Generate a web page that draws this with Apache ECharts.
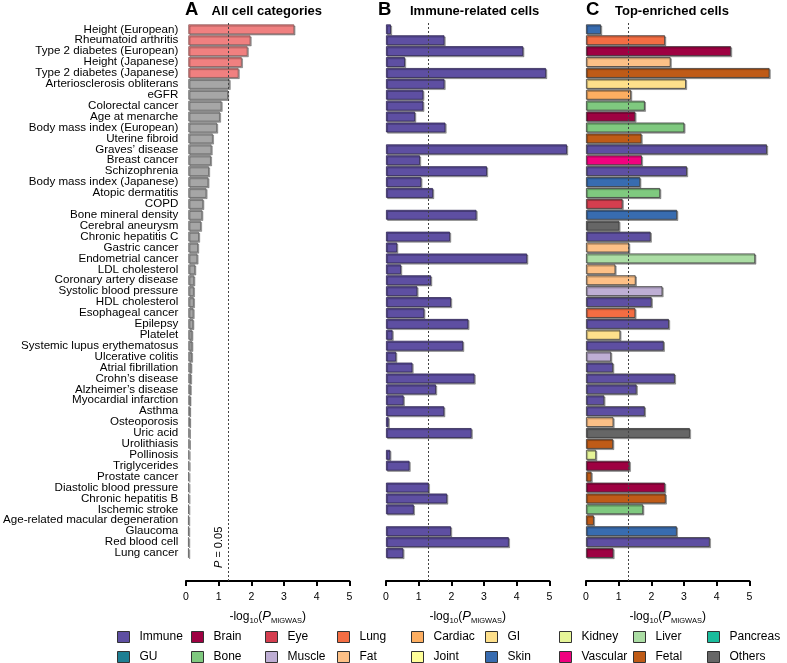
<!DOCTYPE html>
<html>
<head>
<meta charset="utf-8">
<script src="https://cdn.jsdelivr.net/npm/echarts@6/dist/echarts.min.js"></script>
<style>
html,body{margin:0;padding:0;background:#fff;}
#chart{width:787px;height:663px;}
</style>
</head>
<body>
<div id="chart"></div>
<script>
// ---------------- DATA ----------------
const categories = [
  'Height (European)','Rheumatoid arthritis','Type 2 diabetes (European)','Height (Japanese)',
  'Type 2 diabetes (Japanese)','Arteriosclerosis obliterans','eGFR','Colorectal cancer',
  'Age at menarche','Body mass index (European)','Uterine fibroid','Graves\u2019 disease',
  'Breast cancer','Schizophrenia','Body mass index (Japanese)','Atopic dermatitis','COPD',
  'Bone mineral density','Cerebral aneurysm','Chronic hepatitis C','Gastric cancer',
  'Endometrial cancer','LDL cholesterol','Coronary artery disease','Systolic blood pressure',
  'HDL cholesterol','Esophageal cancer','Epilepsy','Platelet','Systemic lupus erythematosus',
  'Ulcerative colitis','Atrial fibrillation','Crohn\u2019s disease','Alzheimer\u2019s disease',
  'Myocardial infarction','Asthma','Osteoporosis','Uric acid','Urolithiasis','Pollinosis',
  'Triglycerides','Prostate cancer','Diastolic blood pressure','Chronic hepatitis B',
  'Ischemic stroke','Age-related macular degeneration','Glaucoma','Red blood cell','Lung cancer'
];

// Panel A: all cell categories
const allCellValues = [
  3.29,1.93,1.84,1.66,1.56,1.28,1.23,1.03,0.98,0.89,0.76,0.72,0.70,0.64,0.62,0.56,0.46,
  0.43,0.39,0.33,0.30,0.28,0.21,0.18,0.17,0.17,0.16,0.15,0.12,0.12,0.11,0.09,0.08,0.07,
  0.06,0.05,0.05,0.04,0.04,0.03,0.03,0.02,0.02,0.02,0.015,0.01,0.01,0.01,0.01
];
const allCellSignificant = [
  true,true,true,true,true,false,false,false,false,false,false,false,false,false,false,false,false,
  false,false,false,false,false,false,false,false,false,false,false,false,false,false,false,false,false,
  false,false,false,false,false,false,false,false,false,false,false,false,false,false,false
];

// Panel B: immune-related cells
const immuneValues = [
  0.15,1.79,4.20,0.58,4.90,1.79,1.14,1.14,0.89,1.82,null,5.54,1.04,3.09,1.08,1.44,null,
  2.77,null,1.96,0.34,4.32,0.46,1.38,0.96,1.99,1.17,2.52,0.20,2.36,0.31,0.81,2.71,1.53,
  0.54,1.78,0.08,2.62,null,0.13,0.72,null,1.31,1.87,0.85,null,1.99,3.76,0.53
];

// Panel C: top-enriched cells
const topCellValues = [
  0.46,2.42,4.44,2.59,5.62,3.06,1.38,1.80,1.51,3.01,1.70,5.54,1.71,3.09,1.66,2.27,1.12,
  2.79,1.02,1.98,1.32,5.18,0.90,1.52,2.34,2.01,1.51,2.54,1.05,2.38,0.77,0.83,2.72,1.55,
  0.56,1.80,0.84,3.18,0.83,0.31,1.34,0.17,2.42,2.44,1.75,0.24,2.78,3.79,0.84
];
const topCellTypes = [
  'Skin','Lung','Brain','Fat','Fetal','GI','Cardiac','Bone','Brain','Bone','Fetal','Immune','Vascular',
  'Immune','Skin','Bone','Eye','Skin','Others','Immune','Fat','Liver','Fat','Fat','Muscle','Immune',
  'Lung','Immune','GI','Immune','Muscle','Immune','Immune','Immune','Immune','Immune','Fat','Others',
  'Fetal','Kidney','Brain','Fetal','Brain','Fetal','Bone','Fetal','Skin','Immune','Brain'
];

const legendRow1 = ['Immune','Brain','Eye','Lung','Cardiac','GI','Kidney','Liver','Pancreas'];
const legendRow2 = ['GU','Bone','Muscle','Fat','Joint','Skin','Vascular','Fetal','Others'];
const xTickValues = [0,1,2,3,4,5];
const pThreshold = 1.3; // -log10(0.05)

// ---------------- STYLES ----------------
const cellColors = {
  Immune:'#5E4FA2', Brain:'#9E0142', Eye:'#D53E4F', Lung:'#F46D43', Cardiac:'#FDAE61',
  GI:'#FEE08B', Kidney:'#E6F598', Liver:'#ABDDA4', Pancreas:'#1ABC9C', GU:'#1E7F93',
  Bone:'#7FC97F', Muscle:'#BEAED4', Fat:'#FDC086', Joint:'#FFFF99', Skin:'#386CB0',
  Vascular:'#F0027F', Fetal:'#BF5B17', Others:'#666666'
};
const FONT = '"Liberation Sans", Arial, Helvetica, sans-serif';
const panelLefts = [186, 386, 586];
const panelWidth = 163.3;
const barTop = 23.85, barHeight = 534.6;
const axisTop = 21, axisLineY = 581;

const barStyle = (color, border) => ({
  color: color, borderColor: border || '#3a3a3a', borderWidth: 0.8,
  shadowColor: 'rgba(0,0,0,0.35)', shadowOffsetX: 1.2, shadowOffsetY: 1.2, shadowBlur: 0
});

// ---------------- OPTION ----------------
const grids = [], xAxes = [], yAxes = [], series = [];
panelLefts.forEach((left, i) => {
  grids.push({left: left, width: panelWidth, top: barTop, height: barHeight, containLabel: false});
  xAxes.push({gridIndex: i, type: 'value', min: 0, max: 5, show: false});
  yAxes.push({
    gridIndex: i, type: 'category', data: categories, inverse: true,
    axisLine: {show: false}, axisTick: {show: false}, splitLine: {show: false},
    axisLabel: {show: i === 0, interval: 0, margin: 10, color: '#000', fontSize: 11.6, fontFamily: FONT}
  });
});
panelLefts.forEach((left, i) => {
  const gi = 3 + i;
  grids.push({left: left, width: panelWidth, top: axisTop, height: axisLineY - axisTop});
  xAxes.push({
    gridIndex: gi, type: 'value', min: 0, max: 5, interval: 1,
    axisLine: {show: true, lineStyle: {color: '#000', width: 2.2}},
    axisTick: {show: true, length: 5, lineStyle: {color: '#000', width: 2}},
    splitLine: {show: false},
    axisLabel: {color: '#000', fontSize: 10.5, fontFamily: FONT, margin: 11,
      customValues: xTickValues},
    name: '-log{sub|10}({ip|P}{sub2|MIGWAS})',
    nameLocation: 'middle', nameGap: 24,
    nameTextStyle: {
      color: '#000', fontSize: 12, fontFamily: FONT, lineHeight: 17, verticalAlign: 'middle',
      rich: {
        sub: {fontSize: 8, fontFamily: FONT, color: '#000', verticalAlign: 'bottom', lineHeight: 17, padding: [6,0,0,0]},
        ip: {fontSize: 13, fontStyle: 'italic', fontFamily: FONT, color: '#000', lineHeight: 17},
        sub2: {fontSize: 7.5, fontFamily: FONT, color: '#000', verticalAlign: 'bottom', lineHeight: 17, padding: [6,0,0,0]}
      }
    }
  });
  yAxes.push({gridIndex: gi, type: 'value', min: 0, max: 1, show: false});
  series.push({
    type: 'line', xAxisIndex: gi, yAxisIndex: gi, data: [], z: 10, silent: true,
    markLine: {
      silent: true, symbol: 'none', animation: false,
      lineStyle: {color: '#444', width: 1, type: [2, 2]},
      label: i === 0 ? {
        show: true, position: 'insideStartTop', formatter: '{ip|P} = 0.05',
        color: '#000', fontSize: 11, fontFamily: FONT, distance: [13, 4],
        rich: {ip: {fontStyle: 'italic', fontSize: 11, fontFamily: FONT, color: '#000'}}
      } : {show: false},
      data: [{xAxis: pThreshold}]
    }
  });
});

// Panel A
series.push({
  name: 'All cell categories', type: 'bar', xAxisIndex: 0, yAxisIndex: 0,
  barCategoryGap: '10%', animation: false,
  data: allCellValues.map((v, k) => ({
    value: v,
    itemStyle: allCellSignificant[k] ? barStyle('#F08080', '#8a5a5a') : barStyle('#A6A6A6', '#6a6a6a')
  }))
});
// Panel B
series.push({
  name: 'Immune', type: 'bar', xAxisIndex: 1, yAxisIndex: 1, clip: false,
  barCategoryGap: '10%', animation: false,
  itemStyle: barStyle(cellColors.Immune, '#2e2650'),
  data: immuneValues
});
// Panel C: one series per cell type
legendRow1.concat(legendRow2).forEach(ct => {
  series.push({
    name: ct, type: 'bar', xAxisIndex: 2, yAxisIndex: 2, stack: 'top', clip: false,
    barCategoryGap: '10%', animation: false,
    itemStyle: barStyle(cellColors[ct], '#3a3a3a'),
    data: topCellValues.map((v, k) => topCellTypes[k] === ct ? v : null)
  });
});

// Legends: 9 columns x 2 rows
const legendLefts = [117, 191, 265, 337, 411, 485, 559, 633, 707];
const legends = legendLefts.map((x, i) => ({
  left: x, top: 630, height: 40, orient: 'vertical', itemGap: 6, itemWidth: 12, itemHeight: 11,
  icon: 'rect', padding: 0, selectedMode: false,
  data: [legendRow1[i], legendRow2[i]],
  itemStyle: {borderColor: '#333', borderWidth: 1, shadowBlur: 0, shadowOffsetX: 0, shadowOffsetY: 0},
  textStyle: {fontSize: 12, lineHeight: 14, fontFamily: FONT, color: '#000', padding: [0, 0, 0, 5]}
}));

const titles = [
  {text: 'A', left: 185, top: 0},
  {text: 'B', left: 378, top: 0},
  {text: 'C', left: 586, top: 0},
].map(t => ({text: t.text, left: t.left, top: t.top, padding: 0,
  textStyle: {fontSize: 18.5, fontWeight: 'bold', color: '#000', fontFamily: FONT}}))
.concat([
  {text: 'All cell categories', left: 211.5},
  {text: 'Immune-related cells', left: 410},
  {text: 'Top-enriched cells', left: 615}
].map(t => ({text: t.text, left: t.left, top: 5, padding: 0,
  textStyle: {fontSize: 13, fontWeight: 'bold', color: '#000', fontFamily: FONT}})));

const chart = echarts.init(document.getElementById('chart'), null, {renderer: 'canvas'});
chart.setOption({
  backgroundColor: '#fff',
  animation: false,
  title: titles,
  legend: legends,
  grid: grids,
  xAxis: xAxes,
  yAxis: yAxes,
  series: series
});
</script>
</body>
</html>
